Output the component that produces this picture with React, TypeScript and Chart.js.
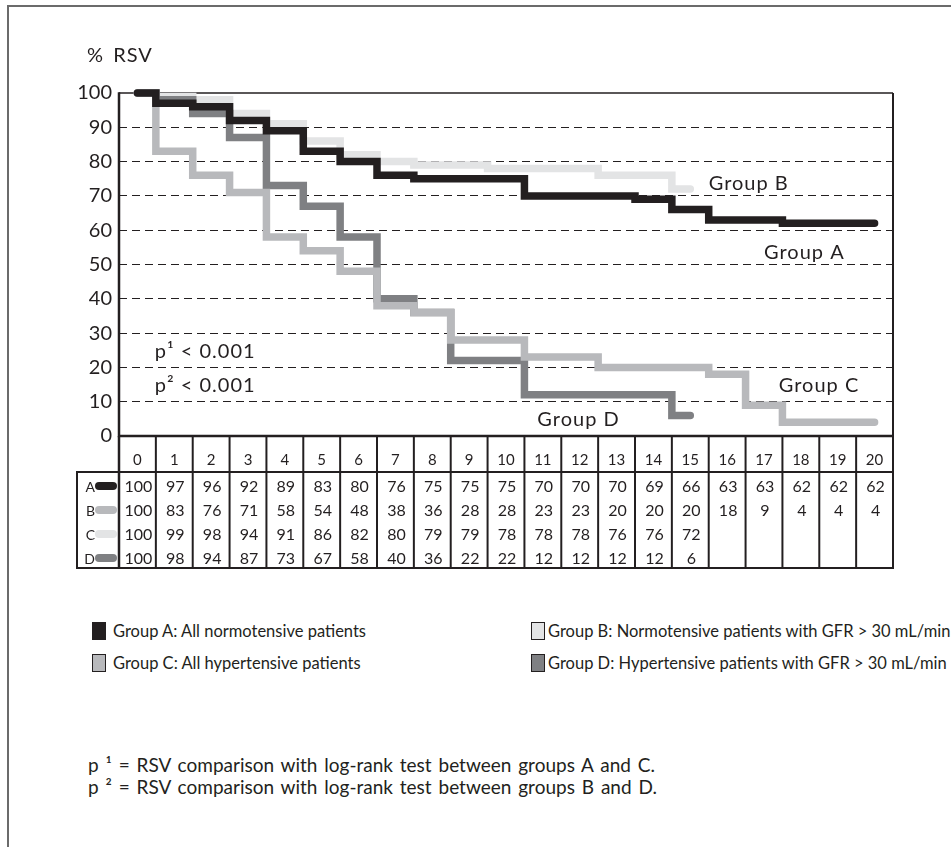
import React, { useEffect, useRef } from "react";
import { Chart, registerables } from "chart.js";

Chart.register(...registerables);

const INK = "#231f20";
const FONT = "Lato, 'Open Sans', sans-serif";

// ---- data ----
const xLabels = ["0", "1", "2", "3", "4", "5", "6", "7", "8", "9", "10", "11", "12", "13", "14", "15", "16", "17", "18", "19", "20"];
const rowLetters = ["A", "B", "C", "D"];
const seriesA = [100, 97, 96, 92, 89, 83, 80, 76, 75, 75, 75, 70, 70, 70, 69, 66, 63, 63, 62, 62, 62];
const seriesB = [100, 83, 76, 71, 58, 54, 48, 38, 36, 28, 28, 23, 23, 20, 20, 20, 18, 9, 4, 4, 4];
const seriesC = [100, 99, 98, 94, 91, 86, 82, 80, 79, 79, 78, 78, 78, 76, 76, 72];
const seriesD = [100, 98, 94, 87, 73, 67, 58, 40, 36, 22, 22, 12, 12, 12, 12, 6];
const yTickValues = [0, 10, 20, 30, 40, 50, 60, 70, 80, 90, 100];
const seriesColors = ["#231f20", "#b8b9bc", "#e3e4e5", "#7f8083"];
const drawOrder = [0, 1, 3, 2];

// curve annotations (data units: time column, % RSV)
const curveNames = ["Group B", "Group A", "Group C", "Group D"];
const curveNameX = [16.0, 17.5, 17.9, 11.35];
const curveNameY = [73.7, 53.5, 14.6, 4.7];
const pValueTexts = ["p¹ < 0.001", "p² < 0.001"];
const pValueX = [0.97, 0.97];
const pValueY = [24.5, 14.6];

// legend
const legendTexts = [
  "Group A: All normotensive patients",
  "Group C: All hypertensive patients",
  "Group B: Normotensive patients with GFR > 30 mL/min",
  "Group D: Hypertensive patients with GFR > 30 mL/min",
];
const legendColors = ["#231f20", "#b8b9bc", "#e3e4e5", "#7f8083"];
const footnotes = [
  "p ¹ = RSV comparison with log-rank test between groups A and C.",
  "p ² = RSV comparison with log-rank test between groups B and D.",
];

function toSteps(values: number[]) {
  const pts: { x: number; y: number }[] = [{ x: 0.5, y: values[0] }];
  for (let i = 1; i < values.length; i++) pts.push({ x: i, y: values[i] });
  pts.push({ x: values.length - 0.5, y: values[values.length - 1] });
  return pts;
}

const HEADER_H = 36;
const ROW_H = 24;

const kmPlugin = {
  id: "kmPlugin",
  beforeDatasetsDraw(chart: any) {
    const { ctx, chartArea: ca } = chart;
    ctx.save();
    ctx.strokeStyle = INK;
    ctx.lineWidth = 1.5;
    ctx.beginPath();
    ctx.moveTo(ca.left, ca.top);
    ctx.lineTo(ca.right, ca.top);
    ctx.stroke();
    ctx.lineWidth = 2;
    ctx.beginPath();
    ctx.moveTo(ca.right, ca.top);
    ctx.lineTo(ca.right, ca.bottom);
    ctx.stroke();
    ctx.lineWidth = 2.5;
    ctx.beginPath();
    ctx.moveTo(ca.left, ca.top - 0.75);
    ctx.lineTo(ca.left, ca.bottom);
    ctx.lineTo(ca.right + 1, ca.bottom);
    ctx.stroke();
    ctx.restore();
  },
  afterDraw(chart: any) {
    const { ctx, chartArea: ca, scales } = chart;
    const xs = scales.x;
    const ys = scales.y;
    const rowTop = ca.bottom + HEADER_H;
    const tableBottom = rowTop + ROW_H * rowLetters.length;
    const x0 = xs.getPixelForValue(0);
    const labelLeft = x0 - 42;
    ctx.save();
    ctx.strokeStyle = INK;
    // vertical column lines
    for (let i = 0; i <= xLabels.length; i++) {
      const px = xs.getPixelForValue(i);
      ctx.lineWidth = i === 0 ? 2.5 : 2;
      ctx.beginPath();
      ctx.moveTo(px, ca.bottom);
      ctx.lineTo(px, tableBottom);
      ctx.stroke();
    }
    // horizontal lines
    ctx.lineWidth = 2;
    ctx.beginPath();
    ctx.moveTo(labelLeft, rowTop);
    ctx.lineTo(ca.right + 1, rowTop);
    ctx.moveTo(labelLeft, tableBottom);
    ctx.lineTo(ca.right + 1, tableBottom);
    ctx.moveTo(labelLeft, rowTop - 1);
    ctx.lineTo(labelLeft, tableBottom + 1);
    ctx.stroke();

    const rows = [seriesA, seriesB, seriesC, seriesD];
    ctx.fillStyle = INK;
    ctx.textBaseline = "middle";
    rows.forEach((vals, r) => {
      const cy = rowTop + ROW_H * r + 15;
      // row letter
      ctx.font = `14px ${FONT}`;
      ctx.textAlign = "right";
      ctx.fillStyle = INK;
      ctx.fillText(rowLetters[r], labelLeft + 18, cy);
      // pill marker
      ctx.strokeStyle = seriesColors[r];
      ctx.lineWidth = 8;
      ctx.lineCap = "round";
      ctx.beginPath();
      ctx.moveTo(labelLeft + 22, cy - 1);
      ctx.lineTo(x0 - 6, cy - 1);
      ctx.stroke();
      // values
      ctx.font = `16px ${FONT}`;
      ctx.textAlign = "center";
      ctx.fillStyle = INK;
      vals.forEach((v, i) => {
        const cx = (xs.getPixelForValue(i) + xs.getPixelForValue(i + 1)) / 2 + 1;
        ctx.fillText(String(v), cx, cy);
      });
    });

    // curve names
    ctx.font = `20px ${FONT}`;
    (ctx as any).letterSpacing = "1px";
    ctx.textAlign = "left";
    ctx.fillStyle = INK;
    curveNames.forEach((t, i) => {
      ctx.fillText(t, xs.getPixelForValue(curveNameX[i]), ys.getPixelForValue(curveNameY[i]));
    });
    pValueTexts.forEach((t, i) => {
      ctx.fillText(t, xs.getPixelForValue(pValueX[i]), ys.getPixelForValue(pValueY[i]));
    });
    (ctx as any).letterSpacing = "0px";
    ctx.restore();
  },
};

export default function App() {
  const canvasRef = useRef<HTMLCanvasElement | null>(null);

  useEffect(() => {
    const canvas = canvasRef.current;
    if (!canvas) return;
    const series = [seriesA, seriesB, seriesC, seriesD];
    const chart = new Chart(canvas, {
      type: "line",
      data: {
        datasets: series.map((vals, i) => ({
          label: rowLetters[i],
          data: toSteps(vals),
          borderColor: seriesColors[i],
          backgroundColor: seriesColors[i],
          borderWidth: 7.5,
          stepped: "before",
          pointRadius: 0,
          pointHoverRadius: 0,
          fill: false,
          clip: false,
          borderCapStyle: "round",
          borderJoinStyle: "miter",
          order: drawOrder[i],
        })) as any,
      },
      options: {
        animation: false,
        responsive: false,
        maintainAspectRatio: false,
        events: [],
        layout: { padding: { top: 93, left: 0, right: 58, bottom: 128 } },
        plugins: { legend: { display: false }, tooltip: { enabled: false }, title: { display: false } },
        scales: {
          x: {
            type: "linear",
            min: 0,
            max: 21,
            afterBuildTicks: (scale: any) => {
              scale.ticks = xLabels.map((_, i) => ({ value: i + 0.5 }));
            },
            afterFit: (scale: any) => {
              scale.height = HEADER_H;
              scale.paddingLeft = 0;
              scale.paddingRight = 0;
            },
            grid: { display: false, drawTicks: false },
            border: { display: false },
            ticks: {
              autoSkip: false,
              maxRotation: 0,
              minRotation: 0,
              padding: 15,
              color: INK,
              font: { family: FONT, size: 15 },
              callback: (_v: any, i: number) => xLabels[i],
            },
          },
          y: {
            type: "linear",
            min: 0,
            max: 100,
            afterBuildTicks: (scale: any) => {
              scale.ticks = yTickValues.map((v) => ({ value: v }));
            },
            afterFit: (scale: any) => {
              scale.width = 119;
              scale.paddingTop = 0;
              scale.paddingBottom = 0;
            },
            grid: {
              drawTicks: false,
              lineWidth: 1,
              color: (c: any) =>
                c.tick && (c.tick.value === 0 || c.tick.value === 100) ? "rgba(0,0,0,0)" : INK,
            },
            border: { display: false, dash: [8, 5] },
            ticks: {
              padding: 7,
              color: INK,
              font: { family: FONT, size: 20 },
              callback: (v: any) => String(v),
            },
          },
        },
      } as any,
      plugins: [kmPlugin],
    });
    return () => chart.destroy();
  }, []);

  const legendPos = [
    { sq: [92, 622], tx: [113, 631] },
    { sq: [92, 654], tx: [113, 663] },
    { sq: [531, 622], tx: [548, 631] },
    { sq: [531, 654], tx: [548, 663] },
  ];

  return (
    <div
      style={{
        position: "fixed",
        left: 0,
        top: 0,
        width: 951,
        height: 847,
        overflow: "hidden",
        background: "#fff",
        fontFamily: FONT,
        color: INK,
      }}
    >
      <div
        style={{
          position: "absolute",
          left: 7,
          top: 5,
          width: 1200,
          height: 1200,
          borderLeft: "2px solid #6b6b6b",
          borderTop: "2px solid #6b6b6b",
        }}
      />
      <canvas
        ref={canvasRef}
        width={951}
        height={600}
        style={{ position: "absolute", left: 0, top: 0, width: 951, height: 600 }}
      />
      <div
        style={{
          position: "absolute",
          left: 87,
          top: 44,
          fontSize: 20,
          lineHeight: "20px",
          letterSpacing: "1px",
          wordSpacing: "3px",
          whiteSpace: "nowrap",
        }}
      >
        % RSV
      </div>
      {legendTexts.map((t, i) => (
        <React.Fragment key={t}>
          <div
            style={{
              position: "absolute",
              left: legendPos[i].sq[0],
              top: legendPos[i].sq[1],
              width: 12,
              height: 16,
              background: legendColors[i],
              border: "1.5px solid #231f20",
            }}
          />
          <div
            style={{
              position: "absolute",
              left: legendPos[i].tx[0],
              top: legendPos[i].tx[1] - 10,
              fontSize: 16.5,
              lineHeight: "20px",
              whiteSpace: "nowrap",
            }}
          >
            {t}
          </div>
        </React.Fragment>
      ))}
      <div
        style={{
          position: "absolute",
          left: 88,
          top: 754,
          fontSize: 19,
          lineHeight: "22px",
          wordSpacing: "2px",
          whiteSpace: "nowrap",
        }}
      >
        {footnotes.map((f) => (
          <div key={f}>{f}</div>
        ))}
      </div>
    </div>
  );
}
